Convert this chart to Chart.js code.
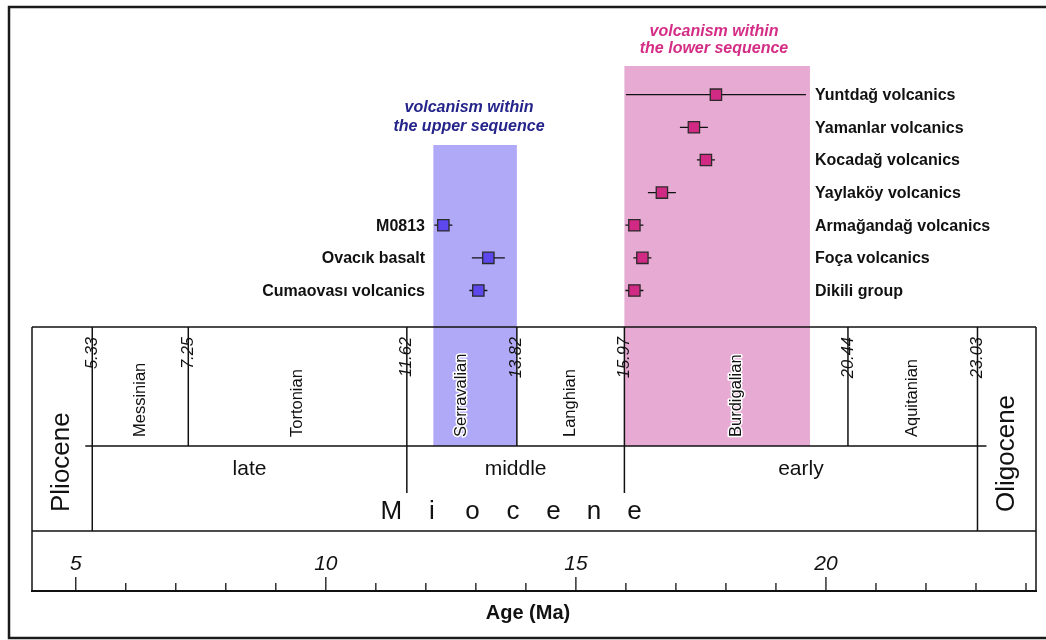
<!DOCTYPE html>
<html>
<head>
<meta charset="utf-8">
<script src="https://cdn.jsdelivr.net/npm/chart.js@4/dist/chart.umd.min.js"></script>
<style>
  html, body { margin: 0; padding: 0; background: #fff; }
</style>
</head>
<body>
<canvas id="ageChart" width="1046" height="640"></canvas>
<script>
// Lower sequence (row 0 = top row)
const lowerNames = ["Yuntdağ volcanics", "Yamanlar volcanics", "Kocadağ volcanics", "Yaylaköy volcanics",
                    "Armağandağ volcanics", "Foça volcanics", "Dikili group"];
const lowerAges = [17.8, 17.36, 17.6, 16.72, 16.17, 16.33, 16.17];
const lowerErrors = [1.8, 0.28, 0.18, 0.28, 0.18, 0.18, 0.18];
const lowerRows = [0, 1, 2, 3, 4, 5, 6];

// Upper sequence
const upperNames = ["M0813", "Ovacık basalt", "Cumaovası volcanics"];
const upperAges = [12.35, 13.25, 13.05];
const upperErrors = [0.18, 0.33, 0.18];
const upperRows = [4, 5, 6];

// shaded ranges (Ma)
const upperBand = [12.15, 13.82];
const lowerBand = [15.97, 19.68];

// time scale
const stageBounds = [5.33, 7.25, 11.62, 13.82, 15.97, 20.44, 23.03];
const stageNames = ["Messinian", "Tortonian", "Serravalian", "Langhian", "Burdigalian", "Aquitanian"];
const subEpochBounds = [5.33, 11.62, 15.97, 23.03];
const subEpochNames = ["late", "middle", "early"];
const majorTicks = [5, 10, 15, 20];
const minorTicks = [6, 7, 8, 9, 11, 12, 13, 14, 16, 17, 18, 19, 21, 22, 23, 24];

const FONT = '"Liberation Sans", Arial, Helvetica, sans-serif';
const blueFill = '#b0a9f7';
const pinkFill = '#e7aad3';

function toPoints(ages, rows) {
  return ages.map((a, i) => ({ x: a, y: rows[i] }));
}

// error bars as one broken line per group
function errorBars(ages, errors, rows) {
  const pts = [];
  ages.forEach((a, i) => {
    pts.push({ x: a - errors[i], y: rows[i] }, { x: a + errors[i], y: rows[i] }, { x: a, y: null });
  });
  return pts;
}

function rotText(ctx, text, x, y, align) {
  ctx.save();
  ctx.translate(x, y);
  ctx.rotate(-Math.PI / 2);
  ctx.textAlign = align;
  ctx.textBaseline = 'middle';
  ctx.fillText(text, 0, 0);
  ctx.restore();
}

function vLine(ctx, x, y1, y2) {
  ctx.beginPath();
  ctx.moveTo(x, y1);
  ctx.lineTo(x, y2);
  ctx.stroke();
}

function hLine(ctx, x1, x2, y) {
  ctx.beginPath();
  ctx.moveTo(x1, y);
  ctx.lineTo(x2, y);
  ctx.stroke();
}

const timescalePlugin = {
  id: 'timescale',
  beforeDatasetsDraw(chart) {
    const { ctx, chartArea: area, scales: { x } } = chart;
    const boxTop = 327, stageBot = 446, epochBot = 531, axisY = area.bottom;
    const L = area.left, R = area.right;
    const px = v => x.getPixelForValue(v);

    ctx.save();
    // outer frame
    ctx.strokeStyle = '#1a1a1a';
    ctx.lineWidth = 2.5;
    ctx.strokeRect(9, 7, 1060, 631);

    // shaded bands
    ctx.fillStyle = blueFill;
    ctx.fillRect(px(upperBand[0]), 145, px(upperBand[1]) - px(upperBand[0]), stageBot - 145);
    ctx.fillStyle = pinkFill;
    ctx.fillRect(px(lowerBand[0]), 66, px(lowerBand[1]) - px(lowerBand[0]), stageBot - 66);

    // box outline
    ctx.strokeStyle = '#111';
    ctx.lineWidth = 1.5;
    hLine(ctx, L, R, boxTop);
    hLine(ctx, L, R, epochBot);
    vLine(ctx, L, boxTop, axisY);
    vLine(ctx, R, boxTop, axisY);
    hLine(ctx, px(stageBounds[0]) - 7, px(stageBounds[stageBounds.length - 1]) + 9, stageBot);

    // boundary lines
    stageBounds.forEach(b => {
      let bottom = stageBot;
      if (b === subEpochBounds[0] || b === subEpochBounds[subEpochBounds.length - 1]) bottom = epochBot;
      else if (subEpochBounds.includes(b)) bottom = 493;
      vLine(ctx, px(b), boxTop, bottom);
    });

    // stage names
    ctx.font = '16.5px ' + FONT;
    ctx.fillStyle = '#111';
    stageNames.forEach((n, i) => {
      const cx = (px(stageBounds[i]) + px(stageBounds[i + 1])) / 2;
      ctx.save();
      ctx.translate(cx, 437);
      ctx.rotate(-Math.PI / 2);
      ctx.textAlign = 'left';
      ctx.textBaseline = 'middle';
      ctx.strokeStyle = '#fff';
      ctx.lineWidth = 3;
      ctx.lineJoin = 'round';
      ctx.strokeText(n, 0, 0);
      ctx.fillText(n, 0, 0);
      ctx.restore();
    });

    // boundary ages
    ctx.font = 'italic 16.5px ' + FONT;
    stageBounds.forEach(b => {
      rotText(ctx, b.toFixed(2), px(b), 337, 'right');
    });

    // sub-epochs
    ctx.font = '21px ' + FONT;
    ctx.textAlign = 'center';
    ctx.textBaseline = 'middle';
    subEpochNames.forEach((n, i) => {
      ctx.fillText(n, (px(subEpochBounds[i]) + px(subEpochBounds[i + 1])) / 2, 469);
    });

    // epochs
    ctx.font = '26px ' + FONT;
    const mio = 'Miocene';
    const mioCenter = (px(subEpochBounds[0]) + px(subEpochBounds[3])) / 2 - 22;
    const step = 40.5;
    ctx.textBaseline = 'alphabetic';
    [...mio].forEach((ch, i) => {
      ctx.fillText(ch, mioCenter + (i - 3) * step, 519);
    });
    rotText(ctx, 'Pliocene', (L + px(stageBounds[0])) / 2, 512, 'left');
    rotText(ctx, 'Oligocene', (px(stageBounds[stageBounds.length - 1]) + R) / 2, 512, 'left');

    // age axis
    ctx.lineWidth = 2;
    hLine(ctx, L - 1, R + 1, axisY);
    ctx.lineWidth = 1.3;
    majorTicks.forEach(t => vLine(ctx, px(t), axisY - 14, axisY));
    minorTicks.forEach(t => vLine(ctx, px(t), axisY - 8, axisY));
    ctx.font = 'italic 21px ' + FONT;
    ctx.textAlign = 'center';
    majorTicks.forEach(t => ctx.fillText(String(t), px(t), 570));
    ctx.font = 'bold 20px ' + FONT;
    ctx.fillText('Age (Ma)', (L + R) / 2 - 6, 619);

    // group titles
    ctx.font = 'italic bold 16px ' + FONT;
    ctx.fillStyle = '#24248a';
    ctx.fillText('volcanism within', 469, 112);
    ctx.fillText('the upper sequence', 469, 131);
    ctx.fillStyle = '#d42d86';
    ctx.fillText('volcanism within', 714, 36);
    ctx.fillText('the lower sequence', 714, 53);
    ctx.restore();
  },
  afterDatasetsDraw(chart) {
    const { ctx, scales: { y } } = chart;
    ctx.save();
    ctx.font = 'bold 16px ' + FONT;
    ctx.fillStyle = '#111';
    ctx.textBaseline = 'middle';
    ctx.textAlign = 'left';
    lowerNames.forEach((n, i) => ctx.fillText(n, 815, y.getPixelForValue(lowerRows[i]) + 1));
    ctx.textAlign = 'right';
    upperNames.forEach((n, i) => ctx.fillText(n, 425, y.getPixelForValue(upperRows[i]) + 1));
    ctx.restore();
  }
};

new Chart(document.getElementById('ageChart'), {
  type: 'scatter',
  data: {
    datasets: [
      {
        label: 'Lower sequence',
        data: toPoints(lowerAges, lowerRows),
        pointStyle: 'rect',
        pointRadius: 8,
        backgroundColor: '#d12a85',
        borderColor: '#2a2a2a',
        borderWidth: 1.3,
        order: 0
      },
      {
        label: 'Upper sequence',
        data: toPoints(upperAges, upperRows),
        pointStyle: 'rect',
        pointRadius: 8,
        backgroundColor: '#5d48ee',
        borderColor: '#2a2a2a',
        borderWidth: 1.3,
        order: 0
      },
      {
        type: 'line',
        label: 'Lower errors',
        data: errorBars(lowerAges, lowerErrors, lowerRows),
        showLine: true,
        spanGaps: false,
        borderColor: '#111',
        borderWidth: 1.3,
        pointRadius: 0,
        order: 1
      },
      {
        type: 'line',
        label: 'Upper errors',
        data: errorBars(upperAges, upperErrors, upperRows),
        showLine: true,
        spanGaps: false,
        borderColor: '#111',
        borderWidth: 1.3,
        pointRadius: 0,
        order: 1
      }
    ]
  },
  options: {
    responsive: false,
    animation: false,
    events: [],
    layout: { padding: { left: 32, right: 10, top: 7, bottom: 49 } },
    plugins: {
      legend: { display: false },
      tooltip: { enabled: false }
    },
    scales: {
      x: { type: 'linear', min: 4.125, max: 24.2, display: false },
      y: { type: 'linear', min: -2.615, max: 15.206, reverse: true, display: false }
    }
  },
  plugins: [timescalePlugin]
});
</script>
</body>
</html>
